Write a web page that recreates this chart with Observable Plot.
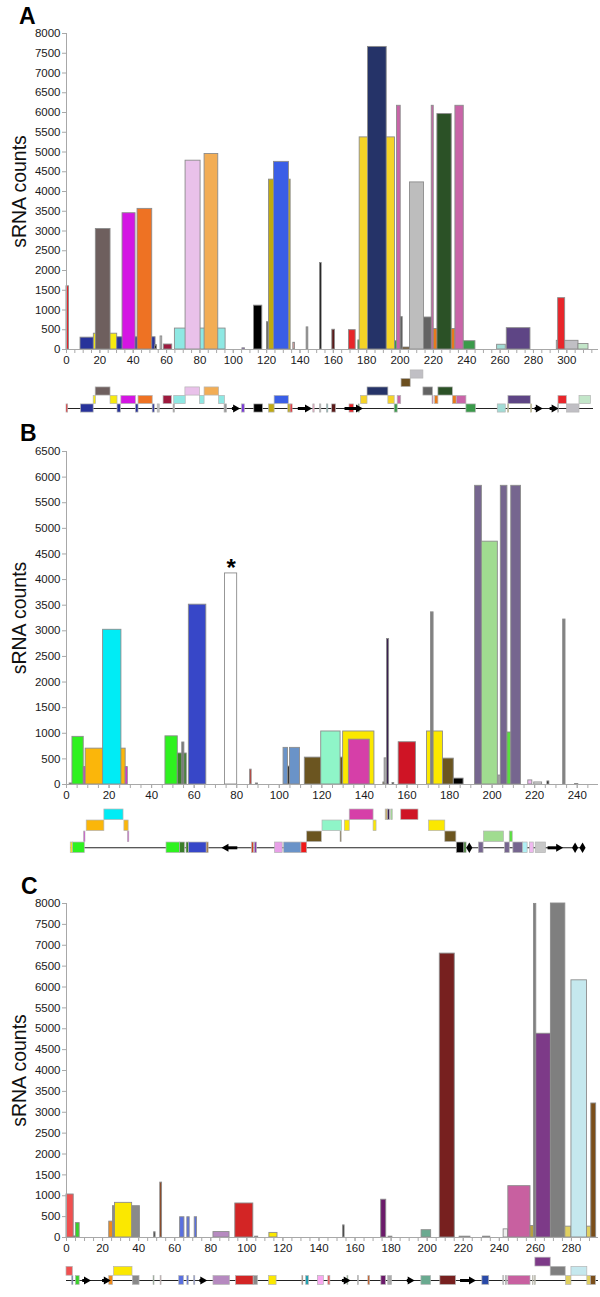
<!DOCTYPE html>
<html><head><meta charset="utf-8">
<script src="https://cdn.jsdelivr.net/npm/d3@7"></script>
<script src="https://cdn.jsdelivr.net/npm/@observablehq/plot@0.6"></script>
<style>
body{margin:0;background:#fff}
#page{position:relative;width:600px;height:1297px;overflow:hidden;background:#fff}
.piece{position:absolute;left:0}
.letter{position:absolute;font-weight:bold;font-size:23px;line-height:1;font-family:"Liberation Sans",Arial,sans-serif;color:#000}
</style></head><body><div id="page"></div>
<script>
// ---------- DATA: bars are [start, end, sRNA count, colour] ----------
const barsA = [
 [0, 1.5, 1600, "#e8252a"], [8.4, 16.4, 300, "#27329a"], [16.4, 30.4, 400, "#f7ea10"],
 [17.6, 26.4, 3050, "#6e5f5e"], [30.4, 53.4, 310, "#27329a"], [33.6, 41.4, 3450, "#d416e3"],
 [42.6, 51.4, 3560, "#ee7223"], [53.2, 54.2, 110, "#111111"], [56.4, 57.4, 330, "#c0c0c0"],
 [58.4, 63.4, 126, "#9e1a3e"], [65, 95.4, 530, "#8ee8e3"], [71.4, 80.4, 4780, "#e9c1ea"],
 [82.8, 91, 4950, "#f2ad55"], [105.5, 107, 30, "#7a3ad8"], [112.4, 117.4, 1110, "#000000"],
 [120.2, 121, 690, "#000000"], [121.4, 134.4, 4300, "#c0aa12"], [124.4, 133.4, 4750, "#3a5ee6"],
 [136, 137, 170, "#d9a0a0"], [144, 145, 560, "#888888"], [152, 153, 2190, "#000000"],
 [159.4, 161, 500, "#5a1a1a"], [169.4, 173.4, 490, "#e8252a"], [175, 176.5, 230, "#3a9a4a"],
 [175.8, 197, 5370, "#f5d327"], [180.8, 192, 7660, "#253368"], [197, 199, 210, "#3a9a4a"],
 [198.2, 200.4, 6170, "#c964a8"], [200.4, 201.6, 820, "#555555"], [201.6, 206.4, 50, "#6b4e1f"],
 [206, 214.4, 4230, "#bdbdbd"], [214.4, 219.4, 810, "#636363"], [219, 220.2, 6170, "#c964a8"],
 [220.2, 233.2, 520, "#e87a1c"], [222.4, 231, 5960, "#2b5126"], [233.2, 238.2, 6170, "#c964a8"],
 [238.2, 245.2, 210, "#3a9a4a"], [258.2, 263.4, 120, "#a2dcd5"], [264, 278.2, 540, "#5e4585"],
 [294, 307, 220, "#c0bfc4"], [294.8, 299, 1300, "#e8252a"], [307, 313, 140, "#c3e6c9"]
];
const barsB = [
 [1.5, 2.8, 20, "#111111"], [2.8, 8.1, 930, "#2ef21f"], [8.1, 9, 340, "#d42fd4"],
 [9, 27.8, 700, "#fbb60a"], [17.2, 25.8, 3020, "#00ecf5"], [27.8, 28.8, 340, "#d42fd4"],
 [46.5, 52.3, 940, "#2ef21f"], [52.3, 56.5, 605, "#3a7f2a"], [54.4, 55.4, 820, "#777777"],
 [57.5, 65.7, 3510, "#3747c8"], [74.5, 80.2, 4120, "#ffffff"], [86.3, 87, 290, "#c8281e"],
 [89, 90, 20, "#111111"], [102, 104.1, 715, "#6a93c8"], [104.1, 105, 350, "#333333"],
 [105, 109.7, 715, "#6a93c8"], [112, 130, 525, "#6b5520"], [119.7, 128.8, 1035, "#8ff5c8"],
 [130, 144.7, 1035, "#fbe800"], [132.7, 142.5, 875, "#d63fa8"], [148.9, 149.5, 40, "#6b5520"],
 [149.5, 150.6, 510, "#aaaaaa"], [150.6, 151.6, 2840, "#3a2050"], [153.2, 154, 30, "#111111"],
 [156.1, 164.2, 825, "#cf1425"], [169.4, 176.9, 1035, "#fbe800"], [171.3, 172.5, 3360, "#808080"],
 [176.9, 182, 505, "#6b5520"], [182, 186.6, 115, "#000000"], [192, 195.2, 5830, "#76668f"],
 [195.2, 202.7, 4740, "#a0dc90"], [203, 204.1, 175, "#aaaaaa"], [204.1, 207.2, 5830, "#76668f"],
 [207.2, 209, 1015, "#5adf40"], [209, 213.6, 5830, "#76668f"], [217, 218.9, 80, "#f0b8f0"],
 [219.8, 223.5, 40, "#dddddd"], [226, 226.9, 60, "#000000"], [233.4, 234.5, 3220, "#808080"],
 [239, 240.5, 10, "#333333"]
];
const barsC = [
 [0, 4, 1030, "#f05050"], [4, 5, 25, "#333333"], [5.2, 7.3, 345, "#3ad22a"],
 [23.7, 25.8, 380, "#f08a1a"], [25.8, 40.7, 750, "#8a8a8a"], [26.9, 36.4, 830, "#fbe800"],
 [48.6, 49.4, 125, "#333333"], [52, 53, 1315, "#8b3a10"], [63, 65.4, 485, "#5a70e0"],
 [67, 68.3, 485, "#5a70e0"], [71.1, 72.4, 485, "#5a70e0"], [81.5, 90.4, 130, "#b68ac0"],
 [93.6, 103.6, 815, "#d32525"], [104.6, 106.3, 20, "#555555"], [112.5, 117, 110, "#fbe800"],
 [153.4, 154.2, 290, "#222222"], [174.5, 177.3, 905, "#6b1a6a"], [178.6, 180.7, 20, "#888888"],
 [196.9, 202.2, 175, "#6aaa90"], [207, 215.3, 6800, "#77201f"], [218, 224, 20, "#666666"],
 [231, 235, 20, "#2a3fa0"], [242.4, 244.8, 195, "#eeeeee"], [245, 257.3, 1230, "#c860a0"],
 [257.3, 259.2, 275, "#b8a040"], [259.2, 260.5, 7990, "#808080"], [260.5, 268.6, 4880, "#7d3a88"],
 [268.6, 276.6, 8000, "#7f7f7f"], [276.6, 280, 260, "#e0d060"], [280, 288.6, 6160, "#c5e8ee"],
 [288.6, 291, 260, "#e0d060"], [291, 293.7, 3210, "#7a4e1a"]
];
// gene maps: [start, end, track level, colour]
const mapA = [
 [0, 1, 0, "#e8252a"], [8.7, 16.3, 0, "#27329a"], [30.6, 32.6, 0, "#27329a"], [41.6, 43.2, 0, "#27329a"],
 [51.7, 52.9, 0, "#27329a"], [54.7, 55.9, 0, "#c0c0c0"], [64.2, 65, 0, "#999999"], [94.8, 96.2, 0, "#999999"],
 [105.3, 106.9, 0, "#7a3ad8"], [112.6, 117.9, 0, "#000000"], [121.4, 124.8, 0, "#c0aa12"],
 [133, 134.4, 0, "#c0aa12"], [134.4, 135.6, 0, "#e8252a"], [148, 148.8, 0, "#f0a0c0"],
 [152, 152.8, 0, "#aaaaaa"], [156.2, 157, 0, "#5fa8a8"], [159.3, 161.6, 0, "#5a1a1a"],
 [169.7, 172.4, 0, "#e8252a"], [175.2, 175.8, 0, "#3a9a4a"], [196.8, 198.6, 0, "#3a9a4a"],
 [239.8, 245.5, 0, "#3a9a4a"], [258.6, 263.4, 0, "#a2dcd5"], [264.8, 265.4, 0, "#c0aa12"],
 [278.6, 279.2, 0, "#c0aa12"], [294.8, 295.4, 0, "#999999"], [300.2, 307.6, 0, "#c0bfc4"],
 [16.3, 17.7, 1, "#f7ea10"], [26.4, 30.6, 1, "#f7ea10"], [32.9, 41.6, 1, "#d416e3"],
 [43.2, 51.7, 1, "#ee7223"], [58.2, 63.2, 1, "#9e1a3e"], [64.6, 71.5, 1, "#8ee8e3"],
 [80, 82.8, 1, "#8ee8e3"], [91.5, 95, 1, "#8ee8e3"], [124.8, 133.3, 1, "#3a5ee6"],
 [176.6, 180.5, 1, "#f5d327"], [193, 196.8, 1, "#f5d327"], [198.6, 200.7, 1, "#c964a8"],
 [219.5, 220.1, 1, "#c964a8"], [221, 223, 1, "#e87a1c"], [231.7, 234, 1, "#e87a1c"],
 [234, 239.8, 1, "#c964a8"], [265, 278.4, 1, "#5e4585"], [295, 300, 1, "#e8252a"],
 [307.6, 314.5, 1, "#c3e6c9"],
 [17.5, 26.4, 2, "#6e5f5e"], [71.3, 80, 2, "#e9c1ea"], [82.8, 91.5, 2, "#f2ad55"],
 [180.5, 193, 2, "#253368"], [214, 219.8, 2, "#636363"], [223, 231.7, 2, "#2b5126"],
 [200.9, 206.4, 3, "#6b4e1f"], [206.4, 214, 4, "#c0bfc4"]
];
const mapB = [
 [2, 3.1, 0, "#f7e020"], [3.1, 8.6, 0, "#2ef21f"], [47, 53.3, 0, "#2ef21f"], [53.3, 55.7, 0, "#3a7f2a"],
 [56.4, 57.5, 0, "#3a7f2a"], [57.5, 65.9, 0, "#3747c8"], [65.9, 66.8, 0, "#a0703a"],
 [87.2, 88.1, 0, "#d04020"], [88.5, 89.5, 0, "#8a3ab0"], [98, 101.6, 0, "#e8a0e8"],
 [102.3, 110.4, 0, "#6a93c8"], [110.4, 113.1, 0, "#f01818"], [183.4, 187, 0, "#000000"],
 [187, 188, 0, "#3a7f2a"], [193.8, 196, 0, "#76668f"], [206.1, 208.3, 0, "#76668f"],
 [210, 214.6, 0, "#76668f"], [214.6, 216.7, 0, "#b0f0f5"], [217.8, 219.6, 0, "#f0b8f0"],
 [220.5, 225.3, 0, "#c8c8c8"],
 [8.3, 8.9, 1, "#d42fd4"], [28.9, 29.5, 1, "#d42fd4"], [113.1, 120, 1, "#6b5520"],
 [128.8, 129.3, 1, "#6b5520"], [178, 183.2, 1, "#6b5520"], [196.2, 205.6, 1, "#a0dc90"],
 [208.3, 209.7, 1, "#5adf40"],
 [9.5, 17.8, 2, "#fbb60a"], [27.2, 29.2, 2, "#fbb60a"], [120.3, 129.5, 2, "#8ff5c8"],
 [130.8, 133.1, 2, "#fbe800"], [144.3, 145.7, 2, "#fbe800"], [170.4, 178, 2, "#fbe800"],
 [17.8, 26.8, 3, "#00ecf5"], [133.1, 144.3, 3, "#d63fa8"], [150, 151, 3, "#c8b070"],
 [151, 152, 3, "#3a2050"], [152.6, 153.3, 3, "#a0dc90"], [157.3, 165.4, 3, "#cf1425"]
];
const mapC = [
 [3.2, 3.8, 0, "#2a3fa0"], [5.2, 7.3, 0, "#3ad22a"], [23.7, 25.8, 0, "#f08a1a"], [36.8, 40.5, 0, "#8a8a8a"],
 [48.3, 48.8, 0, "#6a9a6a"], [52.2, 52.7, 0, "#c8a0a0"], [62.5, 65.1, 0, "#5a70e0"],
 [67, 67.8, 0, "#5a70e0"], [70.8, 71.4, 0, "#5a70e0"], [81.5, 90.6, 0, "#b68ac0"],
 [94, 103.8, 0, "#d32525"], [103.8, 106.1, 0, "#8a8a8a"], [112.3, 116.5, 0, "#fbe800"],
 [130.8, 131.3, 0, "#8b3a10"], [132.9, 134.4, 0, "#20a0b0"], [139.4, 142.7, 0, "#f8a8f0"],
 [145.2, 146.3, 0, "#f05050"], [155.8, 156.3, 0, "#6aaa60"], [161.6, 162.1, 0, "#aaaaaa"],
 [167.4, 168.3, 0, "#c85010"], [174.6, 177.2, 0, "#6b1a6a"], [178.4, 180.5, 0, "#aaaaaa"],
 [196.8, 202.2, 0, "#6aaa90"], [207.3, 216, 0, "#77201f"], [230.6, 234.4, 0, "#2a4aa8"],
 [242.2, 242.7, 0, "#cccccc"], [243.6, 244.2, 0, "#aaaaaa"], [245, 257.3, 0, "#c860a0"],
 [258.6, 259, 0, "#d8d080"], [259.8, 260.2, 0, "#d8d080"], [277, 280, 0, "#e0d060"],
 [288.8, 290.8, 0, "#e0d060"], [290.8, 293.6, 0, "#7a4e1a"],
 [0, 3.5, 1, "#f05050"], [26.4, 36.6, 1, "#fbe800"], [268.5, 276.8, 1, "#7f7f7f"],
 [280, 288.8, 1, "#c5e8ee"],
 [260, 268.5, 2, "#7d3a88"]
];
// arrows on the map line: [tail, head]
const arrowsA = [[139, 144.4], [167, 175], [99.5, 101.3], [281, 282.8], [290, 292.3]];
const arrowsB = [[80.5, 75], [226.3, 231.2]];
const arrowsC = [[9, 11], [20, 22], [74, 75.5], [153, 155], [189, 190.5], [218.5, 224.5]];
const diamondsB = [189.3, 239, 242.5];
const spansA = [0, 316], spansB = [2, 243.5], spansC = [0, 295];
const noteB = [{x: 77.35, y: 4120, label: "*"}];
const yLabel = "sRNA counts";

// ---------- DRAWING ----------
const page = document.getElementById("page");
const FONT = "'Liberation Sans', Arial, Helvetica, sans-serif";
const AX = "#a8a8a8";
const fmt = d => String(d);

function place(el, top) { el.classList.add("piece"); el.style.top = top + "px"; page.appendChild(el); }

function barChart({bars, xMax, xLabelMax, yMax, top, frameTop, frameBottom, extra = []}) {
  const marginBottom = 21;
  const svg = Plot.plot({
    width: 600, height: frameBottom - top + marginBottom,
    marginTop: frameTop - top, marginBottom, marginLeft: 66, marginRight: 2,
    style: {fontFamily: FONT, fontSize: "11.5px", background: "transparent", overflow: "visible", color: "#1a1a1a"},
    x: {domain: [0, xMax]}, y: {domain: [0, yMax]},
    marks: [
      Plot.rectY(bars, {x1: d => d[0], x2: d => d[1], y: d => d[2], fill: d => d[3], stroke: "#8c8c8c", strokeWidth: 0.9}),
      Plot.ruleY([0], {stroke: AX}),
      Plot.ruleX([0], {stroke: AX}),
      Plot.axisY(d3.range(0, yMax + 1, 500), {tickSize: 4, tickPadding: 2, stroke: AX, label: null, tickFormat: fmt, fontSize: 11.5}),
      Plot.axisX(d3.range(0, xMax, 5), {tickSize: 4, tickFormat: () => "", stroke: AX, label: null}),
      Plot.axisX(d3.range(0, xLabelMax + 1, 20), {tickSize: 4, tickPadding: 2, stroke: AX, label: null, tickFormat: fmt, fontSize: 11.5}),
      Plot.text([yLabel], {frameAnchor: "left", textAnchor: "middle", text: d => d, rotate: -90, dx: -47, fontSize: 19.5, fill: "#111"}),
      ...extra
    ]
  });
  place(svg, top);
}

function mapChart({boxes, arrows = [], diamonds = [], span, xMax, top, height, base, step}) {
  const svg = Plot.plot({
    width: 600, height, marginTop: 0, marginBottom: 0, marginLeft: 66, marginRight: 2,
    style: {background: "transparent", overflow: "visible"},
    x: {domain: [0, xMax], axis: null},
    y: {domain: [0, 4], range: [base, base - 4 * step], axis: null},
    marks: [
      Plot.ruleY([span], {y: () => 0, x1: d => d[0], x2: d => d[1], stroke: "#222", strokeWidth: 1.1}),
      Plot.rect(boxes, {x1: d => d[0], x2: d => d[1], y1: d => d[2] - 0.48, y2: d => d[2] + 0.48, fill: d => d[3], stroke: "#b5b5b5", strokeWidth: 0.7}),
      Plot.ruleY(arrows, {y: () => 0, x1: d => d[0], x2: d => d[1], stroke: "#000", strokeWidth: 3}),
      Plot.dot(arrows, {x: d => d[1], y: () => 0, symbol: "triangle", r: 3, fill: "#000", stroke: "none", rotate: d => d[1] > d[0] ? 90 : -90}),
      Plot.dot(diamonds, {x: d => d, y: () => 0, symbol: "diamond", r: 3.2, fill: "#000", stroke: "none"})
    ]
  });
  place(svg, top);
}

function letter(t, left, top) {
  const d = document.createElement("div");
  d.className = "letter"; d.textContent = t;
  d.style.left = left + "px"; d.style.top = top + "px";
  page.appendChild(d);
}

barChart({bars: barsA, xMax: 319, xLabelMax: 300, yMax: 8000, top: 0, frameTop: 33, frameBottom: 349});
mapChart({boxes: mapA, arrows: arrowsA, span: spansA, xMax: 319, top: 365, height: 55, base: 43, step: 8.5});

barChart({bars: barsB, xMax: 250, xLabelMax: 240, yMax: 6500, top: 418, frameTop: 451, frameBottom: 784,
  extra: [Plot.text(noteB, {x: "x", y: "y", text: "label", dy: -5, fontSize: 24, fontWeight: "bold", fill: "#000"})]});
mapChart({boxes: mapB, arrows: arrowsB, diamonds: diamondsB, span: spansB, xMax: 250, top: 800, height: 62, base: 47.3, step: 11});

barChart({bars: barsC, xMax: 295, xLabelMax: 280, yMax: 8000, top: 870, frameTop: 903, frameBottom: 1237});
mapChart({boxes: mapC, arrows: arrowsC, span: spansC, xMax: 295, top: 1245, height: 52, base: 35, step: 9.2});

letter("A", 19, 5);
letter("B", 20, 422);
letter("C", 21, 875);
</script>
</body></html>
